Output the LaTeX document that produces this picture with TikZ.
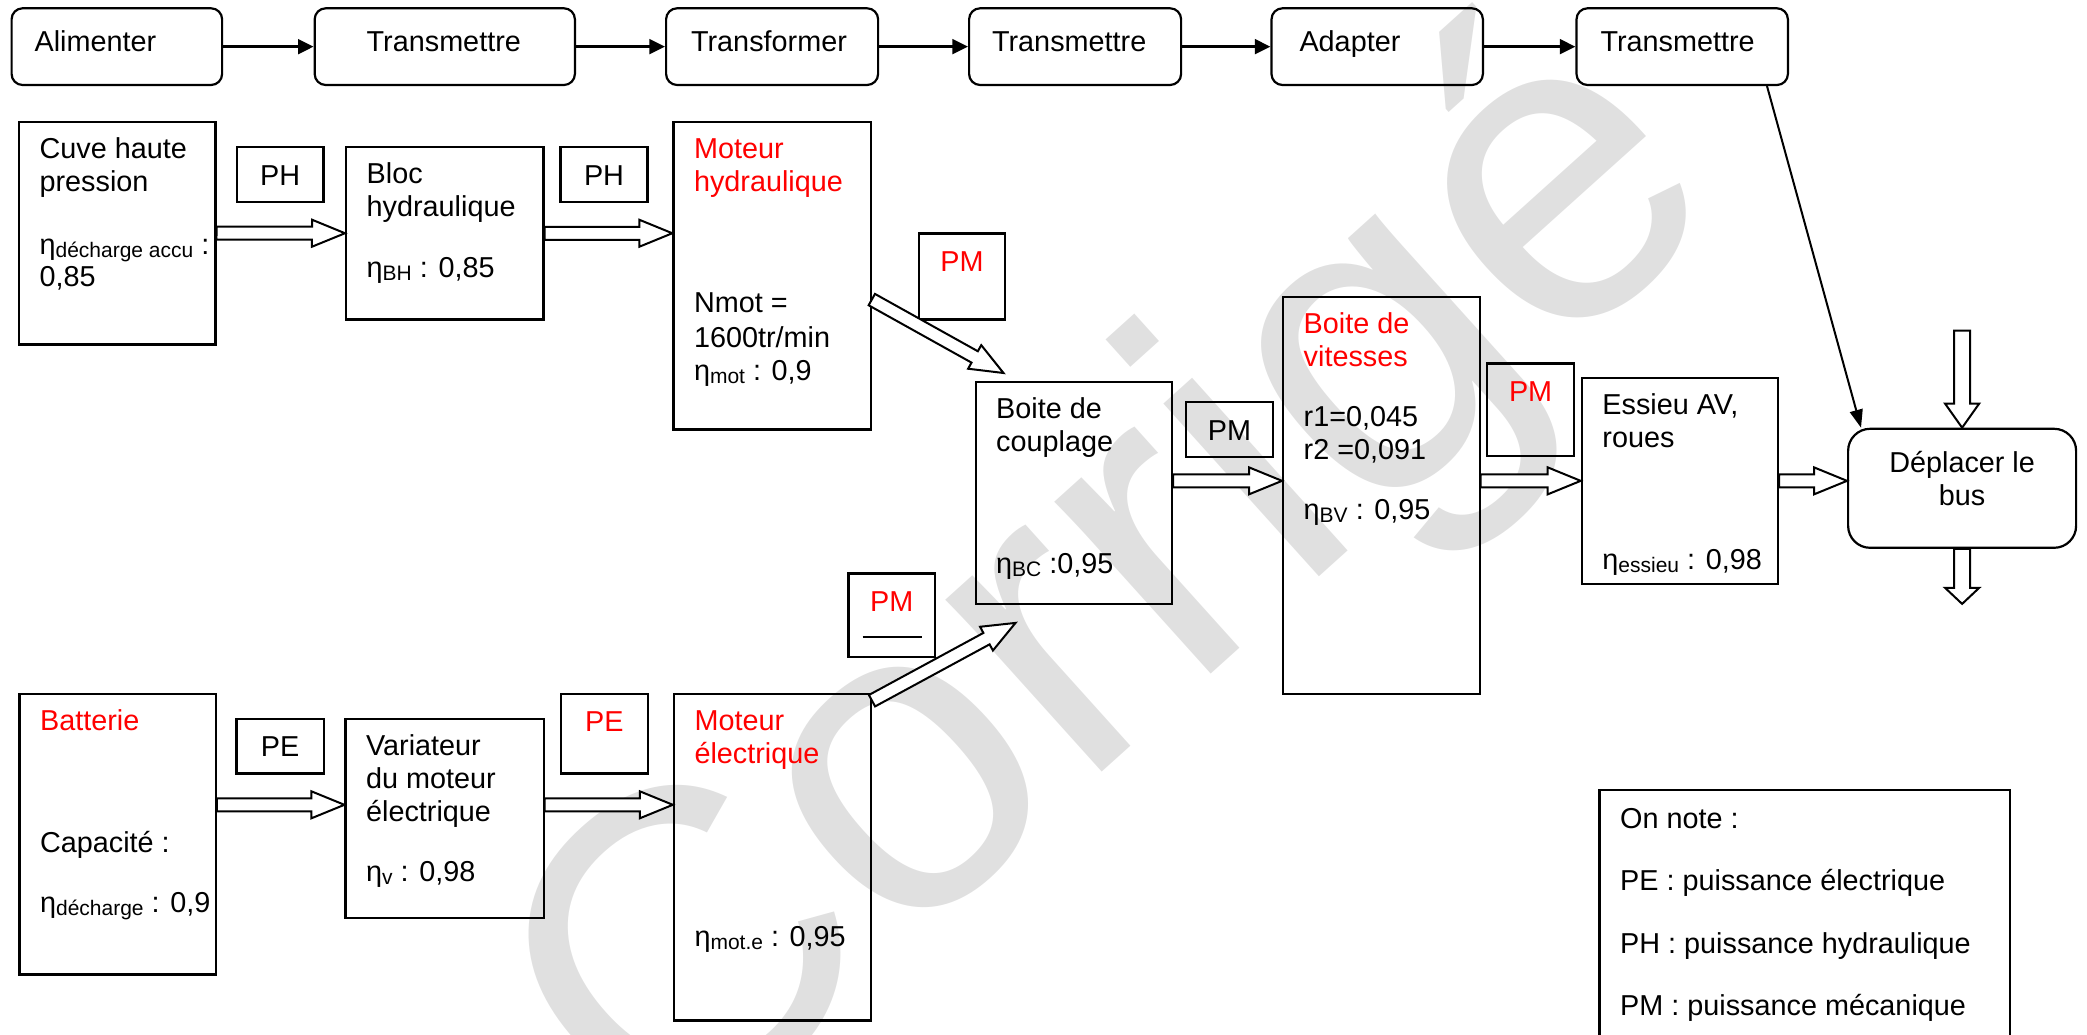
\documentclass[tikz,border=0pt]{standalone}
\usepackage{fontspec}
\setmainfont{Liberation Sans}
\usetikzlibrary{arrows.meta,calc,positioning}

\newcommand{\fst}{\rule{0pt}{26pt}}
\newcommand{\rdt}[1]{η\lower3pt\hbox{\fontsize{21}{21}\selectfont #1}}
\newcommand{\pgap}{6.5}
\newcommand{\pwid}{13.5}
\newcommand{\plen}{33}
\newcommand{\pflow}[2]{%
  \path[pwr] let \p1=(#1), \p2=(#2),
      \n1={veclen(\x2-\x1,\y2-\y1)}, \n2={atan2(\y2-\y1,\x2-\x1)} in
    [shift={(\p1)}, rotate=\n2]
    (0pt,\pgap pt) -- ({\n1-\plen pt},\pgap pt) -- ({\n1-\plen pt},\pwid pt)
    -- ({\n1+0pt},0pt) -- ({\n1-\plen pt},-\pwid pt) -- ({\n1-\plen pt},-\pgap pt)
    -- (0pt,-\pgap pt) -- cycle;}

\tikzset{
  blk/.style = {draw, line width=2.2pt, anchor=north west, inner sep=0pt},
  tbox/.style = {draw, line width=2.2pt, rounded corners=11pt, anchor=west,
    minimum height=76.7, inner ysep=0pt, text height=22pt, text depth=12.7pt},
  tag/.style = {draw, line width=2.2pt, anchor=north west, inner sep=0pt, text height=38pt},
  txt/.style = {anchor=north west, inner sep=0pt, align=left},
  sig/.style = {line width=2.8pt, -{Triangle[length=15.6pt,width=14.7pt]}},
  pwr/.style = {draw, fill=white, line width=2pt, line join=miter},
  wmark/.style = {text=black!12, rotate=42, inner sep=0pt, font=\fontsize{440}{440}\selectfont}
}

\begin{document}
\begin{tikzpicture}[x=1pt, y=-1pt, font=\fontsize{28.8}{33}\selectfont]
\useasboundingbox (0,0) rectangle (2087,1035);

\node[wmark] (wm) at (1120,600) {Corrigé};

% chaine fonctionnelle
\foreach \n/\x/\w/\p/\tw/\txt in {1/10.5/210.5/23/164.5pt/Alimenter,
    2/313.6/260.2/52/156.2pt/Transmettre, 3/665/212/25/162pt/Transformer,
    4/968/212/23/166pt/Transmettre, 5/1270.4/211.4/28/155.4pt/Adapter,
    6/1575.4/211.4/24/163.4pt/Transmettre}
  \node[tbox, minimum width=\w, inner xsep=\p] (t\n) at (\x,46.65) {\makebox[\tw][l]{\txt}};
\foreach \a/\b in {1/2,2/3,3/4,4/5,5/6}
  \draw[sig] (t\a) -- (t\b);

% blocs
\node[blk, minimum width=196.4, minimum height=222.6] (cuve) at (17.9,120.7) {};
\node[blk, minimum width=197.4, minimum height=172.3] (bloc) at (345,146) {};
\node[blk, minimum width=197.3, minimum height=307.6] (mh) at (672.3,120.7) {};
\node[blk, minimum width=196.5, minimum height=221.7] (bc) at (974.5,381) {};
\node[blk, minimum width=196.5, minimum height=396.5] (bv) at (1282,296) {};
\node[blk, minimum width=196.3, minimum height=206.5] (ess) at (1580.7,376.5) {};
\node[blk, rounded corners=22pt, minimum width=228, minimum height=119] (dep) at (1847,427.7) {};
\node[blk, minimum width=196.3, minimum height=280.6] (bat) at (18.4,692.7) {};
\node[blk, minimum width=198.1, minimum height=199] (var) at (344.4,717.7) {};
\node[blk, minimum width=197, minimum height=326.6] (me) at (672.8,692.7) {};

\node[txt] (cuve-t) at ([shift={(21.5,11.5)}]cuve.north west)
  {\fst Cuve haute\\pression\\[30pt]\rdt{décharge accu} :\\[-1pt]0,85};
\node[txt] (bloc-t) at ([shift={(21.5,11.5)}]bloc.north west)
  {\fst Bloc\\hydraulique\\[28pt]\rdt{BH} : 0,85};
\node[txt] (mh-t) at ([shift={(21.5,11.5)}]mh.north west)
  {\fst\textcolor{red}{Moteur}\\\textcolor{red}{hydraulique}\\[88pt]Nmot =\\[2pt]1600tr/min\\\rdt{mot} : 0,9};
\node[txt] (bc-t) at ([shift={(21.5,11.5)}]bc.north west)
  {\fst Boite de\\couplage\\[88.6pt]\rdt{BC} :0,95};
\node[txt] (bv-t) at ([shift={(21.5,11.5)}]bv.north west)
  {\fst\textcolor{red}{Boite de}\\\textcolor{red}{vitesses}\\[27pt]r1=0,045\\r2 =0,091\\[27pt]\rdt{BV} : 0,95};
\node[txt] (ess-t) at ([shift={(21.5,11.5)}]ess.north west)
  {\fst Essieu AV,\\roues\\[89pt]\rdt{essieu} : 0,98};
\node[txt, anchor=north, align=center] (dep-t) at ([yshift=42.5pt]dep.center)
  {\fst Déplacer le\\bus};
\node[txt] (bat-t) at ([shift={(21.5,11.5)}]bat.north west)
  {\fst\textcolor{red}{Batterie}\\[88.7pt]Capacité :\\[27pt]\rdt{décharge} : 0,9};
\node[txt] (var-t) at ([shift={(21.5,11.5)}]var.north west)
  {\fst Variateur\\du moteur\\électrique\\[27pt]\rdt{v} : 0,98};
\node[txt] (me-t) at ([shift={(21.5,11.5)}]me.north west)
  {\fst\textcolor{red}{Moteur}\\\textcolor{red}{électrique}\\[150pt]\rdt{mot.e} : 0,95};

% puissances
\node[tag, minimum width=86.6, text depth=16.7pt] (ph1) at (235.7,146) {PH};
\node[tag, minimum width=87, text depth=16.7pt] (ph2) at (559.4,146) {PH};
\node[tag, text=red, minimum width=86.1, text depth=48pt] (pm1) at (917.9,232.3) {PM};
\node[tag, minimum width=87, text depth=16.7pt] (pm2) at (1184.8,401) {PM};
\node[tag, text=red, minimum width=87, text depth=54.7pt] (pm3) at (1486,362.3) {PM};
\node[tag, minimum width=87.2, text depth=16.6pt] (pe1) at (235.4,717.7) {PE};
\node[tag, text=red, minimum width=87.3, text depth=41.6pt] (pe2) at (559.7,692.7) {PE};
\node[tag, text=red, minimum width=86.7, text depth=45.7pt] (pm4) at (847.3,572.3) {PM};
\draw[line width=2pt] ([shift={(15.4,64.7)}]pm4.north west) -- ++(59.6,0);

\pflow{cuve.east}{bloc.west}
\pflow{bloc.east}{bloc.east -| mh.west}
\pflow{[yshift=-24pt]mh.east}{[xshift=29pt,yshift=8pt]bc.north west}
\coordinate (elev) at ([yshift=13.5pt]var.west);
\pflow{bat.east |- elev}{elev}
\pflow{var.east |- elev}{me.west |- elev}
\pflow{[yshift=-8pt]me.north east}{[xshift=41pt,yshift=-18pt]bc.south west}
\pflow{bc.east |- ess.west}{bv.west |- ess.west}
\pflow{bv.east |- ess.west}{ess.west}
\pflow{ess.east}{ess.east -| dep.west}

\coordinate (dep-in) at ([yshift=97pt]dep.north);
\coordinate (dep-out) at ([yshift=-55pt]dep.south);
{\renewcommand{\pgap}{8}\renewcommand{\pwid}{17}\renewcommand{\plen}{24}
 \pflow{dep-in}{dep.north}
 \renewcommand{\plen}{16}
 \pflow{dep.south}{dep-out}}

\draw[line width=2pt, -{Triangle[length=18pt,width=13pt]}] ([xshift=-22pt]t6.south east) -- ([xshift=14pt]dep.north west);

% legende
\node[minimum width=410, minimum height=260, anchor=north west, inner sep=0pt] (leg) at (1599.5,790.3) {};
\draw[line width=2.2pt] (leg.south west) -- (leg.north west) -- (leg.north east) -- (leg.south east);
\node[txt] (leg-t) at ([shift={(20.5,11.5)}]leg.north west)
  {\fst On note :\\[29.5pt]PE : puissance électrique\\[29.5pt]PH : puissance hydraulique\\[29.5pt]PM : puissance mécanique};

\end{tikzpicture}
\end{document}
